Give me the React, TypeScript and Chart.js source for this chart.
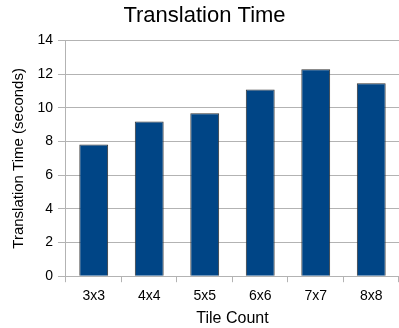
import React, { useEffect, useRef } from "react";
import { Chart, registerables } from "chart.js";

Chart.register(...registerables);

const categories = ["3x3", "4x4", "5x5", "6x6", "7x7", "8x8"];
const translationTimes = [7.82, 9.19, 9.68, 11.09, 12.3, 11.47];
const yTicks = [0, 2, 4, 6, 8, 10, 12, 14];

const FONT = "'Liberation Sans', Arial, sans-serif";

export default function App() {
  const ref = useRef<HTMLCanvasElement | null>(null);

  useEffect(() => {
    document.body.style.margin = "0";
    const canvas = ref.current;
    if (!canvas) return;
    const chart = new Chart(canvas, {
      type: "bar",
      data: {
        labels: categories,
        datasets: [
          {
            label: "Translation Time",
            data: translationTimes,
            backgroundColor: "#004586",
            borderColor: "#333333",
            borderWidth: 1,
            categoryPercentage: 1,
            barPercentage: 0.52,
          },
        ],
      },
      options: {
        animation: false,
        responsive: false,
        maintainAspectRatio: false,
        layout: { padding: { left: 10, right: 0, top: 0, bottom: 0 } },
        plugins: {
          legend: { display: false },
          tooltip: { enabled: false },
          title: {
            display: true,
            text: "Translation Time",
            color: "#000",
            font: { family: FONT, size: 22, weight: "normal" },
            padding: { top: 2.4, bottom: 11.8 },
          },
        },
        scales: {
          x: {
            grid: {
              display: true,
              drawOnChartArea: false,
              drawTicks: true,
              tickLength: 6,
              color: "#b3b3b3",
              offset: true,
            },
            border: { display: true, color: "#b3b3b3" },
            ticks: {
              color: "#000",
              font: { family: FONT, size: 14 },
              padding: 6,
            },
            title: {
              display: true,
              text: "Tile Count",
              color: "#000",
              font: { family: FONT, size: 16, lineHeight: 1 },
              padding: { top: 0, bottom: 1 },
            },
          },
          y: {
            min: 0,
            max: 14,
            afterBuildTicks: (axis: any) => {
              axis.ticks = yTicks.map((v) => ({ value: v }));
            },
            grid: {
              color: "#b3b3b3",
              drawTicks: true,
              tickLength: 8,
            },
            border: { display: true, color: "#b3b3b3" },
            ticks: {
              color: "#000",
              font: { family: FONT, size: 14 },
              padding: 5,
            },
            title: {
              display: true,
              text: "Translation Time (seconds)",
              color: "#000",
              font: { family: FONT, size: 15 },
              padding: { top: 0, bottom: 4.4 },
            },
          },
        },
      },
    });
    return () => chart.destroy();
  }, []);

  return <canvas ref={ref} width={399} height={328} style={{ display: "block" }} />;
}
